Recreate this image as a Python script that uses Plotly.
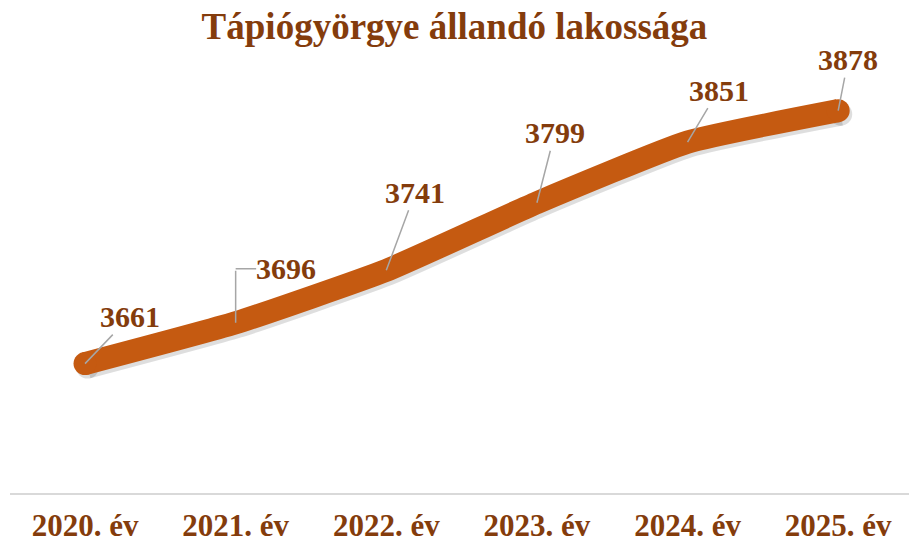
import plotly.graph_objects as go

categories = ["2020. év", "2021. év", "2022. év", "2023. év", "2024. év", "2025. év"]
population = [3661, 3696, 3741, 3799, 3851, 3878]
title_text = "Tápiógyörgye állandó lakossága"

# label offsets in pixels (styling only)
label_offsets = [(45, -47), (50, -54), (29, -78), (18, -70), (31, -52), (10, -51)]

W, H = 909, 544
ML, MR, MT, MB = 10, 0, 85, 51
LINE_C = "#C55A11"
TEXT_C = "#843C0C"
FONT = "Liberation Serif"
LW = 23
xr = [-0.498, 5.47]
yr = [3550, 3900]

fig = go.Figure()
pw = (W - ML - MR)
ph = (H - MT - MB)
dx = 2.5 * (xr[1] - xr[0]) / pw
dy = 3.5 * (yr[1] - yr[0]) / ph
xr_sh = [xr[0] - dx, xr[1] - dx]
yr_sh = [yr[0] + dy, yr[1] + dy]
xs = list(range(len(categories)))
ends_x = [xs[0], xs[-1]]
ends_y = [population[0], population[-1]]

# shadow on the base axes (drawn below), shifted by range offset
fig.add_trace(go.Scatter(
    x=xs, y=population, mode="lines",
    line=dict(color="rgba(0,0,0,0.13)", width=LW, shape="spline", smoothing=0.45),
    hoverinfo="skip", showlegend=False))
fig.add_trace(go.Scatter(
    x=ends_x, y=ends_y, mode="markers",
    marker=dict(color="rgba(0,0,0,0.13)", size=LW),
    hoverinfo="skip", showlegend=False))

# main line on overlay axes (drawn above)
fig.add_trace(go.Scatter(
    x=xs, y=population, mode="lines",
    line=dict(color=LINE_C, width=LW, shape="spline", smoothing=0.45),
    xaxis="x2", yaxis="y2", showlegend=False))
fig.add_trace(go.Scatter(
    x=ends_x, y=ends_y, mode="markers",
    marker=dict(color=LINE_C, size=LW), xaxis="x2", yaxis="y2", showlegend=False))

ann_common = dict(xref="x2", yref="y2")
for i, (v, (ax, ay)) in enumerate(zip(population, label_offsets)):
    if i == 1:
        fig.add_annotation(x=i, y=v, xshift=ax, yshift=-ay, text=f"<b>{v}</b>",
                           showarrow=False, font=dict(family=FONT, size=30, color=TEXT_C), **ann_common)
        fig.add_annotation(x=i, y=v, ax=0, ay=ay, text=" ", font=dict(size=1),
                           showarrow=True, arrowhead=0, arrowwidth=1.5, arrowcolor="#A6A6A6", standoff=0, **ann_common)
        fig.add_annotation(x=i, y=v, yshift=-ay, ax=22, ay=0, text=" ", font=dict(size=1),
                           showarrow=True, arrowhead=0, arrowwidth=1.5, arrowcolor="#A6A6A6", standoff=0, **ann_common)
    else:
        fig.add_annotation(x=i, y=v, ax=ax, ay=ay, text=f"<b>{v}</b>",
                           showarrow=True, arrowhead=0, arrowwidth=1.5, arrowcolor="#A6A6A6",
                           standoff=0, font=dict(family=FONT, size=30, color=TEXT_C), **ann_common)

fig.update_layout(
    width=W, height=H, margin=dict(l=ML, r=MR, t=MT, b=MB, autoexpand=False),
    paper_bgcolor="white", plot_bgcolor="white",
    title=dict(text=f"<b>{title_text}</b>", x=0.5, xanchor="center", y=1 - 26 / H, yanchor="middle",
               font=dict(family=FONT, size=37, color=TEXT_C)),
    xaxis=dict(range=xr_sh, visible=False, automargin=False),
    yaxis=dict(range=yr_sh, visible=False, automargin=False),
    xaxis2=dict(range=xr, overlaying="x", anchor="y2", automargin=False,
                tickmode="array", tickvals=xs, ticktext=[f"<b>{c}</b>" for c in categories],
                showgrid=False, zeroline=False, showline=True, linecolor="#D9D9D9", linewidth=2,
                ticks="", ticklabelstandoff=4, tickfont=dict(family=FONT, size=31, color=TEXT_C)),
    yaxis2=dict(range=yr, overlaying="y", anchor="x2", visible=False, automargin=False),
)

fig.write_html("out.html", config={"displayModeBar": False},
               post_script="document.body.style.margin='0';document.body.style.overflow='hidden';")
